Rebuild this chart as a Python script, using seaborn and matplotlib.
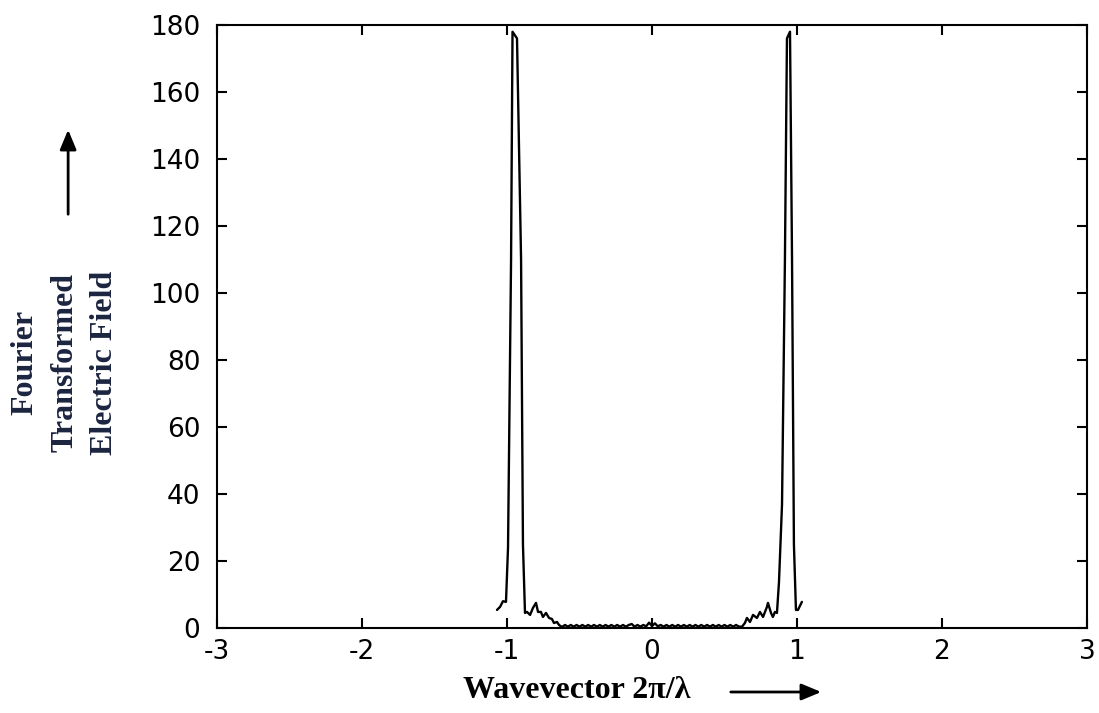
import numpy as np
import pandas as pd
import matplotlib
matplotlib.use("Agg")
import matplotlib.pyplot as plt
import seaborn as sns

# ---- data ----
left_k = [-1.069, -1.048, -1.028, -1.007, -0.993, -0.972, -0.962, -0.931, -0.917,
          -0.903, -0.890, -0.876, -0.862, -0.841, -0.821, -0.800, -0.786, -0.766,
          -0.752, -0.731, -0.710, -0.690, -0.676, -0.655, -0.641, -0.621]
left_e = [5.4, 6.3, 8.0, 7.8, 24, 110, 178, 176, 143,
          110, 25, 4.5, 4.8, 3.9, 6.0, 7.5, 4.8, 4.8,
          3.3, 4.5, 3.0, 2.7, 1.5, 1.8, 0.9, 0.3]

mid_k = [-0.60, -0.58, -0.56, -0.54, -0.52, -0.50, -0.48, -0.46, -0.44, -0.42,
         -0.40, -0.38, -0.36, -0.34, -0.32, -0.30, -0.28, -0.26, -0.24, -0.22,
         -0.20, -0.18, -0.16, -0.14, -0.12, -0.10, -0.08, -0.06, -0.04, -0.02,
         0.00, 0.02, 0.04, 0.06, 0.08, 0.10, 0.12, 0.14, 0.16, 0.18,
         0.20, 0.22, 0.24, 0.26, 0.28, 0.30, 0.32, 0.34, 0.36, 0.38,
         0.40, 0.42, 0.44, 0.46, 0.48, 0.50, 0.52, 0.54, 0.56, 0.58, 0.60]
mid_e = [0.9, 0.4, 0.9, 0.4, 0.9, 0.4, 0.9, 0.4, 0.9, 0.4,
         0.9, 0.4, 0.9, 0.4, 0.9, 0.4, 0.9, 0.4, 0.9, 0.4,
         0.9, 0.4, 0.9, 1.2, 0.4, 0.9, 0.4, 0.9, 0.5, 1.6,
         0.6, 1.4, 0.5, 0.9, 0.4, 0.9, 0.4, 0.9, 0.4, 0.9,
         0.4, 0.9, 0.4, 0.9, 0.4, 0.9, 0.4, 0.9, 0.4, 0.9,
         0.4, 0.9, 0.4, 0.9, 0.4, 0.9, 0.4, 0.9, 0.4, 0.9, 0.4]

right_k = [0.621, 0.641, 0.655, 0.676, 0.697, 0.724, 0.745, 0.766, 0.793, 0.800,
           0.821, 0.834, 0.848, 0.862, 0.876, 0.897, 0.917, 0.931, 0.952, 0.966,
           0.979, 0.993, 1.007, 1.034]
right_e = [0.4, 1.5, 3.0, 1.8, 3.9, 3.0, 4.8, 3.3, 6.3, 7.5,
           4.5, 3.3, 4.8, 4.5, 13.7, 37, 110, 176, 178, 110,
           25, 5.4, 5.4, 7.8]

x_ticks = [-3, -2, -1, 0, 1, 2, 3]
y_ticks = [0, 20, 40, 60, 80, 100, 120, 140, 160, 180]

df = pd.DataFrame({"k": left_k + mid_k + right_k,
                   "E": left_e + mid_e + right_e})

# ---- style ----
sns.set_style("ticks")
plt.rcParams["font.family"] = ["DejaVu Sans"]
plt.rcParams["axes.unicode_minus"] = False

fig = plt.figure(figsize=(10.99, 7.13), dpi=100)
ax = fig.add_axes([0.1975, 0.1192, 0.7915, 0.8457])

sns.lineplot(data=df, x="k", y="E", sort=False, estimator=None,
             color="black", linewidth=1.7, ax=ax)

ax.set_xlim(-3, 3)
ax.set_ylim(0, 180)
ax.set_xticks(x_ticks)
ax.set_yticks(y_ticks)
ax.set_xticklabels([str(t) for t in x_ticks])
ax.set_yticklabels([str(t) for t in y_ticks])
ax.set_xlabel("")
ax.set_ylabel("")

for s in ax.spines.values():
    s.set_visible(True)
    s.set_linewidth(1.5)
    s.set_color("black")
ax.tick_params(direction="in", length=7, width=1.5, top=True, right=True,
               labelsize=19, colors="black", pad=8)
ax.tick_params(axis="y", pad=12)

# labels
serif = ["Liberation Serif", "DejaVu Serif"]
fig.text(0.525, 0.032, "Wavevector 2\u03c0/\u03bb", ha="center", va="center",
         fontsize=23, fontweight="bold", family=serif, color="black")
fig.text(0.059, 0.491, "Fourier\nTransformed\nElectric Field", ha="center",
         va="center", rotation=90, fontsize=23, fontweight="bold",
         family=serif, color="#1c2540", linespacing=1.5, multialignment="center")

# arrows
fig.patches.append(matplotlib.patches.FancyArrowPatch(
    (0.062, 1 - 217 / 713), (0.062, 1 - 127 / 713), transform=fig.transFigure,
    arrowstyle="-|>,head_length=12,head_width=5", color="black", lw=2,
    mutation_scale=1))
fig.patches.append(matplotlib.patches.FancyArrowPatch(
    (728 / 1099, 1 - 692 / 713), (824 / 1099, 1 - 692 / 713), transform=fig.transFigure,
    arrowstyle="-|>,head_length=12,head_width=5", color="black", lw=2,
    mutation_scale=1))

fig.savefig("out.png", dpi=100, facecolor="white")
